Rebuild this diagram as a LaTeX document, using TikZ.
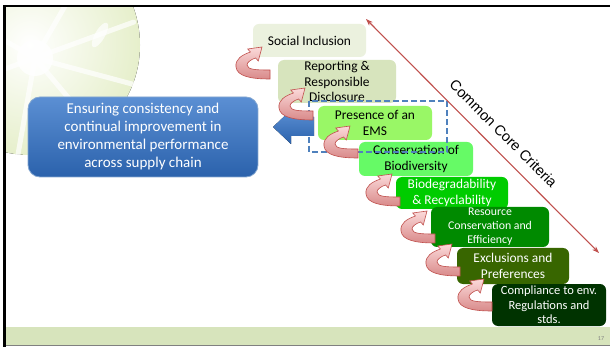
\documentclass[tikz,border=0pt]{standalone}
\usepackage{fontspec}
\setmainfont{Carlito}
\newfontfamily\arialf{Liberation Sans}
\usetikzlibrary{arrows.meta,calc}
\definecolor{socC}{HTML}{EBF1DE}
\definecolor{repC}{HTML}{D7E4BD}
\definecolor{presC}{HTML}{99F766}
\definecolor{consC}{HTML}{66FA66}
\definecolor{bioC}{HTML}{00CC00}
\definecolor{resC}{HTML}{008A00}
\definecolor{excC}{HTML}{386600}
\definecolor{compC}{HTML}{003300}
\definecolor{blueT}{HTML}{5B8FD3}
\definecolor{blueB}{HTML}{2B62AC}
\definecolor{blueE}{HTML}{4F81BD}
\definecolor{redO}{HTML}{C0504D}
\definecolor{pinkL}{HTML}{FBDADA}
\definecolor{pinkD}{HTML}{D98A8A}
\definecolor{leafC}{HTML}{E6EFCB}
\definecolor{barC}{HTML}{D7E4BC}
\tikzset{
  stepbox/.style={rounded corners=6pt, inner sep=0pt, align=center,
    font=\fontsize{13.4}{15.5}\selectfont},
  curvearr/.style={draw=redO, line width=0.6pt, top color=pinkL, bottom color=pinkD},
}
\newcommand\curvarrow[1]{%
  \begin{scope}[shift={(#1)}]
  \path[curvearr] (0,-6) .. controls (-12,-6) and (-23,-6) .. (-23,-11)
    .. controls (-23,-14) and (-18,-17) .. (-14.4,-18) -- (-11.7,-15)
    -- (-8,-29) -- (-22.3,-27) -- (-19.6,-24)
    .. controls (-28,-21) and (-35,-17) .. (-34,-9)
    .. controls (-33,0) and (-20,3) .. (0,3) -- cycle;
  \end{scope}}
\begin{document}
\begin{tikzpicture}[x=1pt,y=-1pt]
\useasboundingbox (0,0) rectangle (610,347);
\fill[white] (0,0) rectangle (610,347);
% background leaf
\begin{scope}
  \clip (6,7) rectangle (300,326);
  \fill[inner color=white, outer color=leafC] (30,45) circle (110);
  \foreach \a in {-60,-20,15,50,100,160,210}
    \draw[white, line width=5pt, line cap=round, opacity=0.7] (35,58) -- ++(\a:105);
  \fill[white, opacity=0.8] (35,58) circle (18);
  \fill[white, opacity=0.7, rotate around={60:(100,35)}] (100,35) ellipse (14 and 5);
\end{scope}
% bottom bar
\fill[barC] (6,327) rectangle (610,345);
\draw[gray, line width=0.8pt] (6,345.6) -- (610,345.6);
\node[font=\fontsize{6}{7}\selectfont, text=gray] (pg) at (601,339) {17};
% frame
\draw[black, line width=2pt] (3,6) -- (610,6);
\draw[black, line width=3pt] (4.5,5) -- (4.5,347);
% blue box
\node[rounded corners=12pt, minimum width=230pt, minimum height=80pt, inner sep=0pt,
  top color=blueT, bottom color=blueB, draw=blueE!70!white, line width=0.8pt,
  text=white, align=center, font=\fontsize{15}{18}\selectfont] (goal) at (143,137)
  {Ensuring consistency and\\continual improvement in\\environmental performance\\across supply chain};
% step boxes
\node[stepbox, fill=socC, minimum width=113pt, minimum height=33pt] (soc) at (309.5,40.5) {Social Inclusion};
\node[stepbox, fill=repC, minimum width=118pt, minimum height=43pt] (rep) at (337,81.5) {Reporting \&\\Responsible\\Disclosure};
\node[stepbox, fill=presC, minimum width=114pt, minimum height=34pt] (pres) at (375,123) {Presence of an\\EMS};
\node[stepbox, fill=consC, minimum width=114pt, minimum height=34pt] (cons) at (416,159) {Conservation of\\Biodiversity};
\node[stepbox, fill=bioC, text=white, minimum width=112pt, minimum height=32pt,
  font=\fontsize{13.4}{16}\selectfont] (bio) at (452,193) {Biodegradability\\\& Recyclability};
\node[stepbox, fill=resC, text=white, minimum width=118pt, minimum height=40pt,
  font=\fontsize{11.8}{14}\selectfont] (res) at (490,227) {Resource\\Conservation and\\Efficiency};
\node[stepbox, fill=excC, text=white, minimum width=112pt, minimum height=36pt,
  font=\fontsize{13.4}{16}\selectfont] (exc) at (513,266) {Exclusions and\\Preferences};
\node[stepbox, fill=compC, text=white, minimum width=114pt, minimum height=42pt,
  font=\fontsize{12.5}{14.5}\selectfont] (comp) at (549,305) {Compliance to env.\\Regulations and\\stds.};
% dashed group
\draw[blueE, line width=1.5pt, dash pattern=on 6pt off 3pt] (309,101) rectangle (447,152);
% blue block arrow
\fill[top color=blueT, bottom color=blueB] (273,127) -- (291,110) -- (291,117) -- (314,117)
  -- (314,136) -- (291,136) -- (291,144) -- cycle;
% curved arrows
\coordinate (t1) at (270,76);
\coordinate (t2) at (313,117);
\coordinate (t3) at (358,155);
\coordinate (t4) at (400,203);
\coordinate (t5) at (435,240);
\coordinate (t6) at (460,273);
\coordinate (t7) at (492,308);
\foreach \t in {t1,t2,t3,t4,t5,t6,t7} {\curvarrow{\t}}
% red diagonal
\coordinate (dA) at (366,19);
\coordinate (dB) at (599,253);
\draw[redO, line width=1.1pt, {Stealth[length=7pt,width=5pt]}-{Stealth[length=7pt,width=5pt]}] (dA) -- (dB);
\node[font=\arialf\fontsize{14.5}{17}\selectfont, rotate=-45] (ccc) at (503.5,133.5) {Common Core Criteria};
\end{tikzpicture}
\end{document}
